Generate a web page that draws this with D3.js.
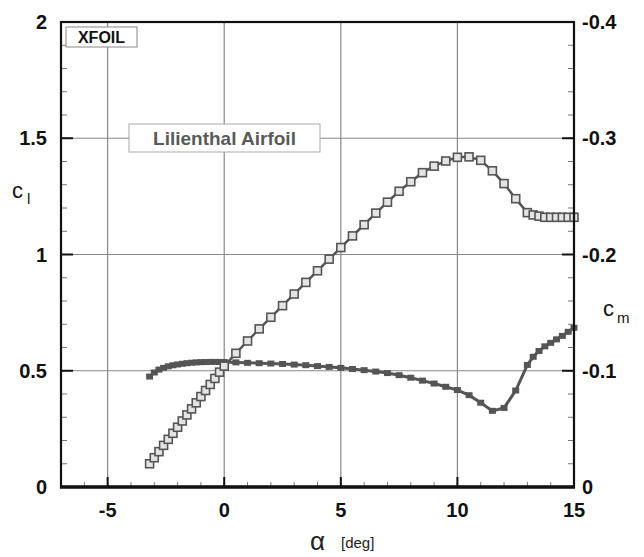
<!DOCTYPE html>
<html>
<head>
<meta charset="utf-8">
<script src="https://cdn.jsdelivr.net/npm/d3@7"></script>
<style>
  body { margin: 0; background: #fff; }
  text { font-family: "Liberation Sans", Arial, sans-serif; }
</style>
</head>
<body>
<div id="chart"></div>
<script>
// angle of attack [deg]
var alpha = [-3.2, -3.0, -2.8, -2.6, -2.4, -2.2, -2.0, -1.8, -1.6, -1.4, -1.2, -1.0, -0.8, -0.6, -0.4, -0.2, 0,
  0.5, 1, 1.5, 2, 2.5, 3, 3.5, 4, 4.5, 5, 5.5, 6, 6.5, 7, 7.5, 8, 8.5, 9, 9.5, 10, 10.5, 11, 11.5, 12, 12.5, 13,
  13.25, 13.5, 13.75, 14, 14.25, 14.5, 14.75, 15];
// lift coefficient
var cl = [0.10, 0.126, 0.152, 0.179, 0.205, 0.231, 0.257, 0.284, 0.31, 0.336, 0.362, 0.389, 0.415, 0.441, 0.467, 0.494, 0.52,
  0.575, 0.628, 0.68, 0.73, 0.78, 0.83, 0.88, 0.93, 0.98, 1.03, 1.08, 1.128, 1.178, 1.225, 1.272, 1.313, 1.352, 1.38, 1.402,
  1.418, 1.42, 1.405, 1.36, 1.305, 1.24, 1.18,
  1.17, 1.165, 1.16, 1.16, 1.16, 1.16, 1.16, 1.16];
// pitching moment coefficient
var cm = [-0.095, -0.0985, -0.101, -0.1025, -0.1038, -0.1047, -0.1054, -0.106, -0.1065, -0.1069, -0.1072, -0.1074, -0.1075,
  -0.1076, -0.1076, -0.1076, -0.1075,
  -0.1072, -0.1068, -0.1065, -0.1062, -0.1058, -0.1053, -0.1048, -0.104, -0.1033, -0.1025, -0.1015, -0.1005, -0.0993, -0.098,
  -0.0962, -0.094, -0.0915, -0.089, -0.0862, -0.0834, -0.079, -0.0725, -0.0655, -0.068, -0.083, -0.105,
  -0.112, -0.117, -0.121, -0.124, -0.127, -0.13, -0.1335, -0.137];

var xTicks = [-5, 0, 5, 10, 15];
var clTicks = [0, 0.5, 1, 1.5, 2];
var cmTicks = [0, -0.1, -0.2, -0.3, -0.4];

(function(){
  var width = 644, height = 557;
  var pL = 61, pR = 574, pT = 22, pB = 487;
  var curveColor = "#555";

  var svg = d3.select("#chart").append("svg")
    .attr("width", width)
    .attr("height", height);

  var x = d3.scaleLinear().domain([-7, 15]).range([pL, pR]);
  var y = d3.scaleLinear().domain([0, 2]).range([pB, pT]);
  var y2 = d3.scaleLinear().domain([0, -0.4]).range([pB, pT]);

  var data = alpha.map(function(a, i) { return {a: a, cl: cl[i], cm: cm[i]}; });

  // grid
  svg.append("g").selectAll("line")
    .data([-5, 0, 5, 10])
    .enter().append("line")
    .attr("x1", function(d) { return x(d); }).attr("x2", function(d) { return x(d); })
    .attr("y1", pT).attr("y2", pB)
    .attr("stroke", "#888").attr("stroke-width", 1.2);
  svg.append("g").selectAll("line")
    .data([0.5, 1, 1.5])
    .enter().append("line")
    .attr("x1", pL).attr("x2", pR)
    .attr("y1", function(d) { return y(d); }).attr("y2", function(d) { return y(d); })
    .attr("stroke", "#888").attr("stroke-width", 1.2);

  // minor ticks (inward)
  var minorX = d3.range(-6, 15, 1);
  var minorY = d3.range(0.1, 2, 0.1);
  var ticks = svg.append("g").attr("stroke", "#777").attr("stroke-width", 1);
  ticks.selectAll(".mx").data(minorX).enter().append("line")
    .attr("x1", function(d) { return x(d); }).attr("x2", function(d) { return x(d); })
    .attr("y1", pB).attr("y2", pB - 5);
  ticks.selectAll(".my").data(minorY).enter().append("line")
    .attr("x1", pL).attr("x2", pL + 6)
    .attr("y1", function(d) { return y(d); }).attr("y2", function(d) { return y(d); });
  ticks.selectAll(".my2").data(minorY).enter().append("line")
    .attr("x1", pR).attr("x2", pR - 6)
    .attr("y1", function(d) { return y(d); }).attr("y2", function(d) { return y(d); });

  // major ticks
  var major = svg.append("g").attr("stroke", "#111").attr("stroke-width", 2);
  major.selectAll(".Mx").data(xTicks).enter().append("line")
    .attr("x1", function(d) { return x(d); }).attr("x2", function(d) { return x(d); })
    .attr("y1", pB).attr("y2", pB - 10);
  major.selectAll(".My").data(clTicks).enter().append("line")
    .attr("x1", pL).attr("x2", pL + 12)
    .attr("y1", function(d) { return y(d); }).attr("y2", function(d) { return y(d); });
  major.selectAll(".My2").data(cmTicks).enter().append("line")
    .attr("x1", pR).attr("x2", pR - 12)
    .attr("y1", function(d) { return y2(d); }).attr("y2", function(d) { return y2(d); });

  // curves
  var clLine = d3.line().x(function(d) { return x(d.a); }).y(function(d) { return y(d.cl); });
  var cmLine = d3.line().x(function(d) { return x(d.a); }).y(function(d) { return y2(d.cm); });

  svg.append("path").datum(data)
    .attr("d", cmLine).attr("fill", "none")
    .attr("stroke", curveColor).attr("stroke-width", 3);
  svg.selectAll(".cmpt").data(data).enter().append("rect")
    .attr("class", "cmpt")
    .attr("x", function(d) { return x(d.a) - 3.5; })
    .attr("y", function(d) { return y2(d.cm) - 3; })
    .attr("width", 7).attr("height", 6)
    .attr("fill", curveColor);

  svg.append("path").datum(data)
    .attr("d", clLine).attr("fill", "none")
    .attr("stroke", curveColor).attr("stroke-width", 2.5);
  svg.selectAll(".clpt").data(data).enter().append("rect")
    .attr("class", "clpt")
    .attr("x", function(d) { return x(d.a) - 4; })
    .attr("y", function(d) { return y(d.cl) - 4; })
    .attr("width", 8).attr("height", 8)
    .attr("fill", "#e4e4e4")
    .attr("stroke", curveColor).attr("stroke-width", 1.6);

  // frame
  svg.append("rect")
    .attr("x", pL).attr("y", pT)
    .attr("width", pR - pL).attr("height", pB - pT)
    .attr("fill", "none").attr("stroke", "#111").attr("stroke-width", 2.2);
  svg.append("line")
    .attr("x1", pL - 1).attr("x2", pR + 1)
    .attr("y1", pB).attr("y2", pB)
    .attr("stroke", "#111").attr("stroke-width", 3.5);

  // tick labels
  var labelStyle = function(sel) {
    sel.attr("font-size", 20).attr("font-weight", "bold").attr("fill", "#111");
  };
  svg.selectAll(".xl").data(xTicks).enter().append("text")
    .attr("x", function(d) { return x(d); })
    .attr("y", 517)
    .attr("text-anchor", "middle")
    .text(function(d) { return d; })
    .call(labelStyle);
  svg.selectAll(".yl").data(clTicks).enter().append("text")
    .attr("x", 47)
    .attr("y", function(d) { return y(d) + 7; })
    .attr("text-anchor", "end")
    .text(function(d) { return d; })
    .call(labelStyle);
  svg.selectAll(".y2l").data(cmTicks).enter().append("text")
    .attr("x", 582)
    .attr("y", function(d) { return y2(d) + 7; })
    .attr("text-anchor", "start")
    .text(function(d) { return d === 0 ? "0" : d3.format(".1f")(d).replace("−", "-"); })
    .call(labelStyle);

  // axis titles
  svg.append("text").attr("x", 12).attr("y", 198).attr("font-size", 22).attr("fill", "#111").text("c");
  svg.append("text").attr("x", 27).attr("y", 204).attr("font-size", 15).attr("fill", "#111").text("l");
  svg.append("text").attr("x", 603).attr("y", 316).attr("font-size", 22).attr("fill", "#111").text("c");
  svg.append("text").attr("x", 617).attr("y", 323).attr("font-size", 15).attr("fill", "#111").text("m");
  svg.append("text").attr("x", 310).attr("y", 550)
    .attr("font-family", "DejaVu Serif, serif").attr("font-size", 26).attr("fill", "#222").text("α");
  svg.append("text").attr("x", 341).attr("y", 548).attr("font-size", 15).attr("fill", "#222").text("[deg]");

  // labels in boxes
  svg.append("rect").attr("x", 66).attr("y", 27).attr("width", 71).attr("height", 20)
    .attr("fill", "#fff").attr("stroke", "#888").attr("stroke-width", 1);
  svg.append("text").attr("x", 101.5).attr("y", 43).attr("text-anchor", "middle")
    .attr("font-size", 16).attr("font-weight", "bold").attr("fill", "#111").text("XFOIL");

  svg.append("rect").attr("x", 129).attr("y", 124).attr("width", 191).attr("height", 28)
    .attr("fill", "#fff").attr("stroke", "#aaa").attr("stroke-width", 1);
  svg.append("text").attr("x", 224.5).attr("y", 145).attr("text-anchor", "middle")
    .attr("font-size", 19).attr("font-weight", "bold").attr("fill", "#5a5a5a").text("Lilienthal Airfoil");
})();
</script>
</body>
</html>
